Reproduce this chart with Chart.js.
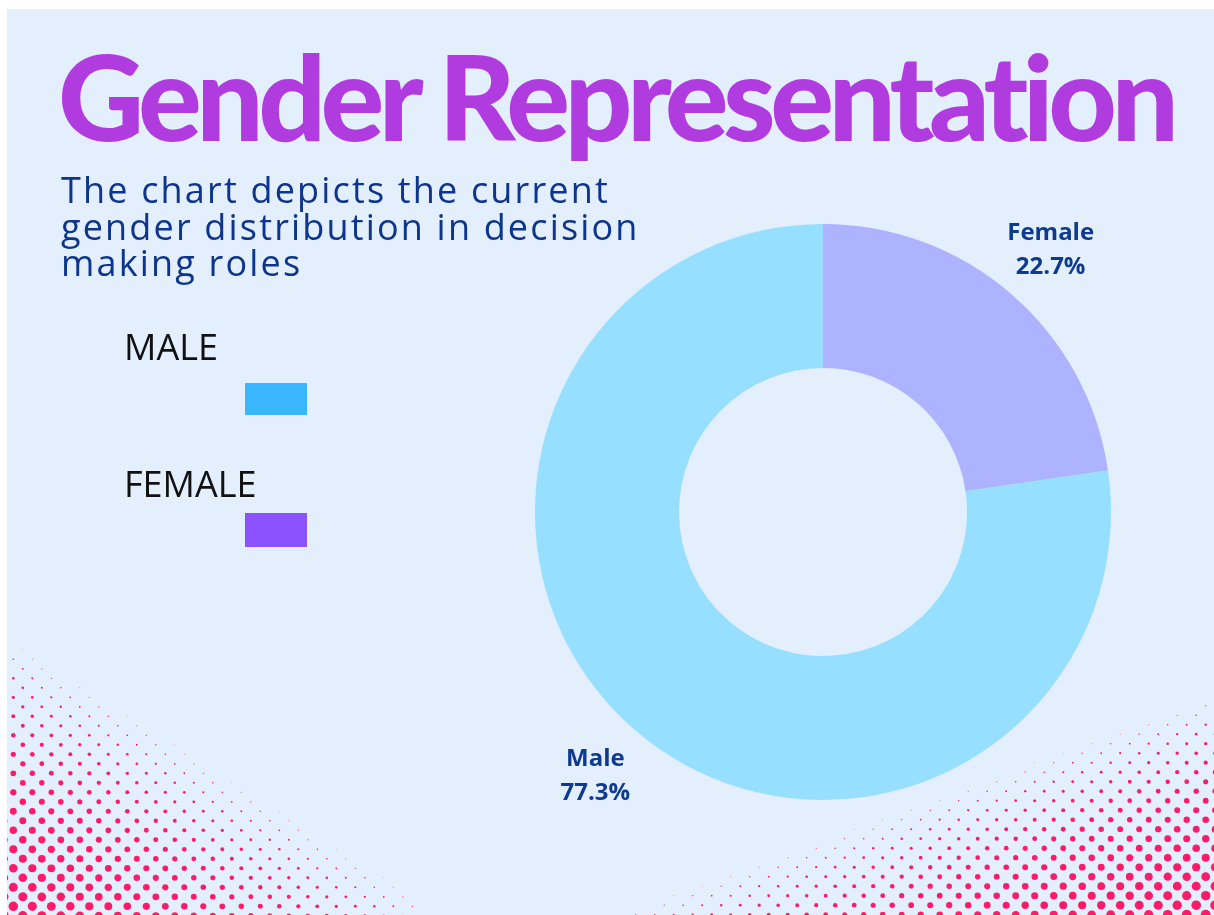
<!DOCTYPE html>
<html>
<head>
<meta charset="utf-8">
<title>Gender Representation</title>
<script src="https://cdn.jsdelivr.net/npm/chart.js@4.4.1/dist/chart.umd.min.js"></script>
<style>
  body { margin: 0; background: #ffffff; width: 1214px; height: 915px; overflow: hidden; position: relative; }
  #panel { position: absolute; left: 7px; top: 9px; width: 1207px; height: 906px; background: #e3effd; }
  #dots { position: absolute; left: 0; top: 0; }
  #title {
    position: absolute; left: 58px; top: 35px; margin: 0;
    font: 900 119px/120px Lato, "Noto Sans", sans-serif; color: #b03ce0; white-space: nowrap;
  }
  #sub {
    position: absolute; left: 61px; top: 172px; margin: 0;
    font: 400 36px/36.5px "Open Sans", sans-serif; color: #0d358c; white-space: nowrap;
  }
  .legText {
    position: absolute; left: 124px; margin: 0;
    font: 400 36px/36px "Open Sans", sans-serif; color: #111111; white-space: nowrap;
  }
  .legBox { position: absolute; left: 245px; width: 62px; }
  #chartBox { position: absolute; left: 440px; top: 150px; width: 766px; height: 730px; }
</style>
</head>
<body>
<div id="panel"></div>
<canvas id="dots" width="1214" height="915"></canvas>
<h1 id="title">Gender Representation</h1>
<p id="sub" data-fit="The chart depicts the current">The chart depicts the current<br>gender distribution in decision<br>making roles</p>
<div id="legend"></div>
<div id="chartBox"><canvas id="myChart"></canvas></div>

<script>
// dati del grafico
const categories = ['Female', 'Male'];
const shares = [22.7, 77.3];
const sliceColors = ['#adb3ff', '#97dffe'];

// legenda personalizzata (a sinistra)
const legendLabels = ['MALE', 'FEMALE'];
const legendColors = ['#38b6ff', '#8c52ff'];

// allarga/stringe le lettere per avere la stessa larghezza del riferimento
function fitSpacing(el, target) {
    const cs = getComputedStyle(el);
    const ctx = document.createElement('canvas').getContext('2d');
    ctx.font = `${cs.fontWeight} ${cs.fontSize} ${cs.fontFamily}`;
    const text = el.dataset.fit || el.textContent;
    const m = ctx.measureText(text);
    const ink = m.actualBoundingBoxLeft + m.actualBoundingBoxRight;
    el.style.letterSpacing = ((target - ink) / (text.length - 1)) + 'px';
}

function buildLegend() {
    const box = document.getElementById('legend');
    const textTops = [329, 466];
    const boxTops = [383, 513];
    const boxHeights = [32, 34];
    legendLabels.forEach((lbl, i) => {
        const t = document.createElement('p');
        t.className = 'legText';
        t.textContent = lbl;
        t.style.top = textTops[i] + 'px';
        box.appendChild(t);
        const b = document.createElement('div');
        b.className = 'legBox';
        b.style.top = boxTops[i] + 'px';
        b.style.height = boxHeights[i] + 'px';
        b.style.background = legendColors[i];
        box.appendChild(b);
    });
}

// sfondo a mezzitoni negli angoli in basso (solo decorazione)
function drawHalftone() {
    const c = document.getElementById('dots').getContext('2d');
    c.save();
    c.beginPath();
    c.rect(7, 9, 1207, 906);
    c.clip();
    c.fillStyle = '#ff1a6a';
    const step = 9.5;
    const corners = [
        { cx: 7, dir: 1, xs: 13.3, ys: 906.3, A: 450, B: 285, rmax: 4.9 },
        { cx: 1214, dir: -1, xs: 1205.7, ys: 914.7, A: 610, B: 225, rmax: 5.1 }
    ];
    corners.forEach(cn => {
        for (let j = -1; j < 40; j++) {
            const y = cn.ys - j * step;
            const dh = Math.max(0, 915 - y);
            for (let i = -1; i < 70; i++) {
                const x = cn.xs + cn.dir * (i * 2 * step + (j % 2 ? step : 0));
                const dx = Math.max(0, (x - cn.cx) * cn.dir);
                const s = dx / cn.A + dh / cn.B;
                if (s >= 1) continue;
                const r = cn.rmax * Math.pow(1 - s, 0.75);
                if (r < 0.35) continue;
                c.beginPath();
                c.arc(x, y, r, 0, Math.PI * 2);
                c.fill();
            }
        }
    });
    c.restore();
}

// etichette fuori dalla ciambella
const outsideLabels = {
    id: 'outsideLabels',
    afterDatasetsDraw(chart) {
        const ctx = chart.ctx;
        const meta = chart.getDatasetMeta(0);
        ctx.save();
        ctx.fillStyle = '#0e3a8f';
        ctx.font = 'bold 24px "Open Sans", sans-serif';
        ctx.textAlign = 'center';
        ctx.textBaseline = 'alphabetic';
        meta.data.forEach((arc, i) => {
            const p = arc.getProps(['x', 'y', 'startAngle', 'endAngle', 'outerRadius'], true);
            const mid = (p.startAngle + p.endAngle) / 2;
            const r = p.outerRadius + 60;
            const cx = p.x + Math.cos(mid) * r;
            const cy = p.y + Math.sin(mid) * r;
            ctx.fillText(categories[i], cx, cy - 9);
            ctx.fillText(shares[i].toFixed(1) + '%', cx, cy + 25);
        });
        ctx.restore();
    }
};

function createChart() {
    const ctx = document.getElementById('myChart').getContext('2d');
    new Chart(ctx, {
        type: 'doughnut',
        data: {
            labels: categories,
            datasets: [{
                data: shares,
                backgroundColor: sliceColors,
                borderWidth: 0
            }]
        },
        options: {
            responsive: true,
            maintainAspectRatio: false,
            animation: false,
            events: [],
            cutout: '50%',
            layout: { padding: { left: 95, right: 95, top: 74, bottom: 80 } },
            plugins: {
                legend: { display: false },
                tooltip: { enabled: false }
            }
        },
        plugins: [outsideLabels]
    });
}

buildLegend();
fitSpacing(document.getElementById('title'), 1117);
fitSpacing(document.getElementById('sub'), 546);
drawHalftone();
createChart();
</script>
</body>
</html>
